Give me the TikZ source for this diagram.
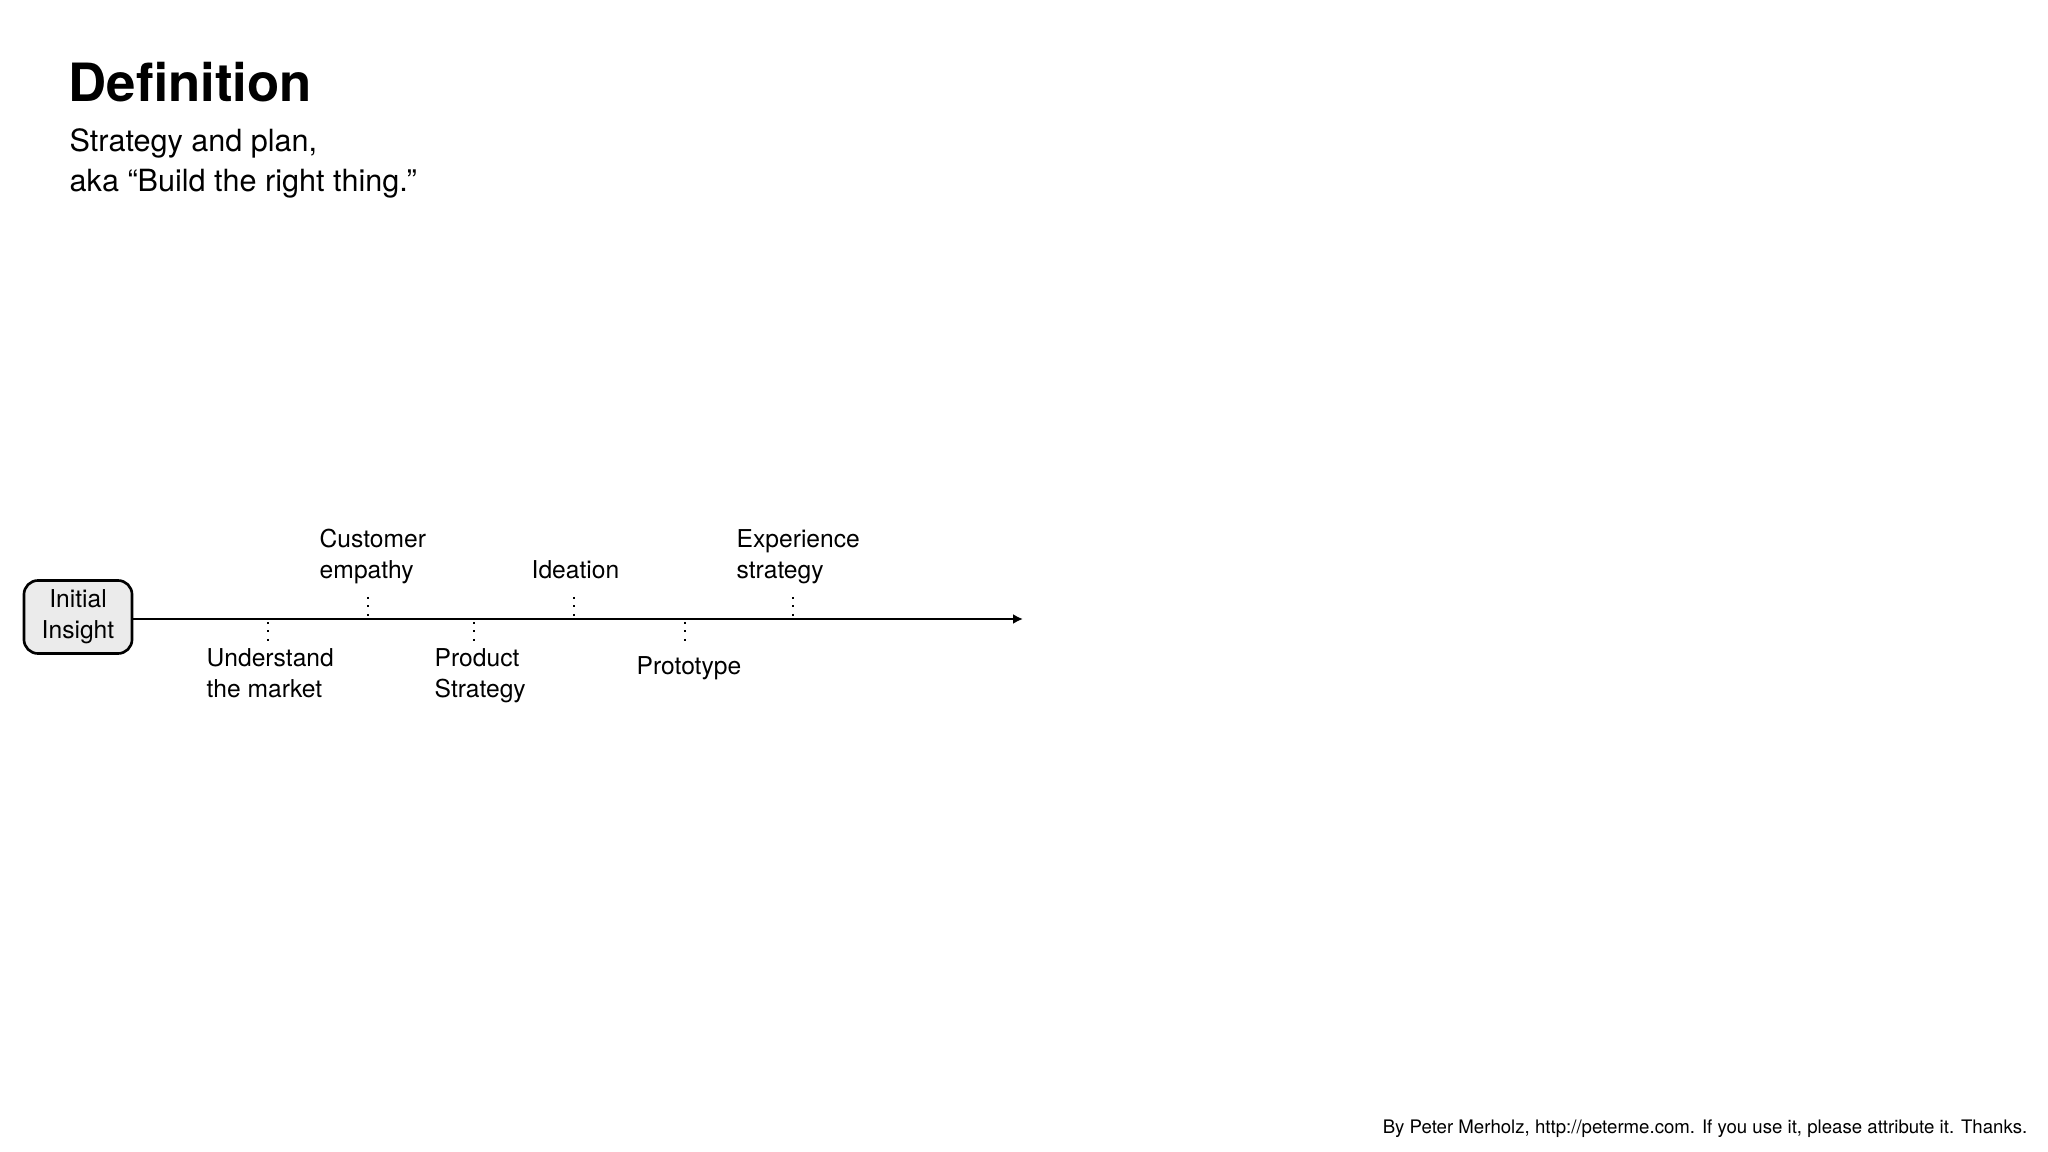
\documentclass[tikz,border=0pt]{standalone}
\usepackage{fontspec}
\setmainfont{TeX Gyre Heros}
\usetikzlibrary{arrows.meta,positioning}
\newcommand{\lblfont}{\fontsize{7}{8.8}\selectfont}

\begin{document}
\begin{tikzpicture}
[x=.01cm,y=-.01cm,
edge/.style={black,line width=.6pt,-{Latex[length=2.8pt,width=2.8pt]}},
block/.style={draw=black,line width=.75pt,rounded corners=4pt,fill=black!8,
  minimum width=1.08cm,minimum height=.73cm,align=center,inner sep=0pt,font=\lblfont},
lbl/.style={align=left,inner sep=0pt,font=\lblfont},
tick/.style={black,line width=.55pt,dash pattern=on .55pt off 1.85pt}]
\useasboundingbox (0,0) rectangle (2048,1152);
%%
\node[anchor=base west,inner sep=0pt,font=\fontsize{15}{18}\selectfont\bfseries]
  (title) at (68,102) {Definition};
\node[anchor=south west,inner sep=0pt,align=left,text depth=0pt,
  font=\fontsize{8.7}{11.2}\selectfont] (sub) at (69,192)
  {Strategy and plan,\\aka “Build the right thing.”};
%%
\node[block] (insight) at (78,617) {Initial\\Insight};
\coordinate (tip) at (1023,619);
\draw[edge] (insight.east |- tip) -- (tip);
%%
\coordinate (mk) at (268,619);
\coordinate (em) at (368,619);
\coordinate (ps) at (474,619);
\coordinate (id) at (574,619);
\coordinate (pr) at (685,619);
\coordinate (ex) at (793,619);
\draw[tick] (mk) ++(0,3) -- ++(0,19);
\draw[tick] (em) ++(0,-22) -- ++(0,19);
\draw[tick] (ps) ++(0,3) -- ++(0,19);
\draw[tick] (id) ++(0,-22) -- ++(0,19);
\draw[tick] (pr) ++(0,3) -- ++(0,19);
\draw[tick] (ex) ++(0,-22) -- ++(0,19);
%%
\node[lbl,anchor=north west] (market) at (206,648) {Understand\\the market};
\node[lbl,anchor=south west,text depth=0pt] (empathy) at (319,579) {Customer\\empathy};
\node[lbl,anchor=north west] (product) at (434,648) {Product\\Strategy};
\node[lbl,anchor=south west,text depth=0pt] (ideation) at (531,579) {Ideation};
\node[lbl,anchor=north west] (proto) at (636,656) {Prototype};
\node[lbl,anchor=south west,text depth=0pt] (expstrat) at (736,579) {Experience\\strategy};
%%
\node[anchor=base east,inner sep=0pt,font=\fontsize{5.3}{6.5}\selectfont]
  (credit) at (2028,1133)
  {By Peter Merholz, http://peterme.com. If you use it, please attribute it. Thanks.};
\end{tikzpicture}
\end{document}
